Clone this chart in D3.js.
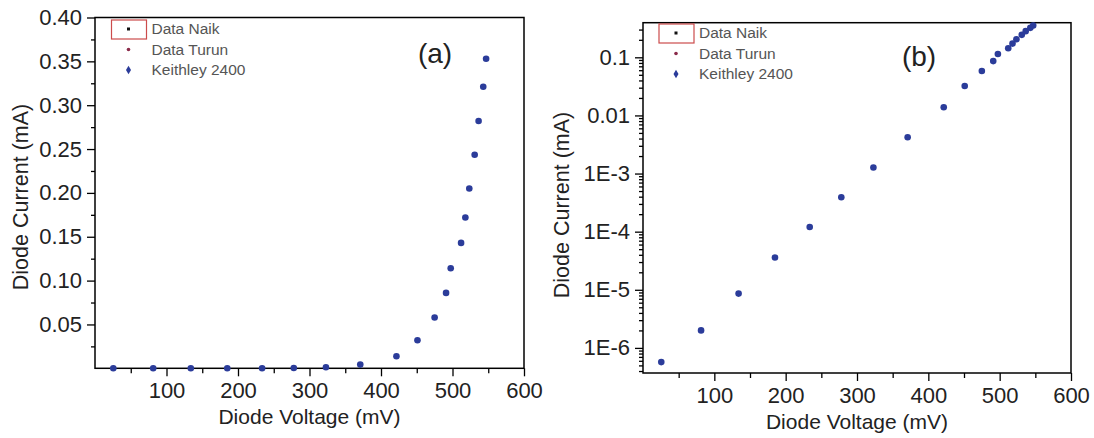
<!DOCTYPE html>
<html>
<head>
<meta charset="utf-8">
<script src="https://cdn.jsdelivr.net/npm/d3@7"></script>
<style>
    body { margin: 0; background: #fff; }
    svg text { font-family: "Liberation Sans", Arial, sans-serif; }
    .axis path { display: none; }
    .axis line { stroke: #000; stroke-width: 1.3; }
    .axis text { font-size: 22px; fill: #222; }
</style>
</head>
<body>
<div id="chart"></div>
<script>
// Keithley 2400 measurements: diode voltage (mV) and current (mA)
const voltage = [25.6, 81.4, 134, 185, 233.7, 278, 323, 371, 421.6, 451, 475, 491, 497.5, 512, 518, 523.5, 531, 536.5, 543, 547];
const current = [5.7e-7, 2.0e-6, 8.6e-6, 3.6e-5, 1.2e-4, 3.9e-4, 1.27e-3, 4.2e-3, 0.0138, 0.032, 0.058, 0.086, 0.114, 0.143, 0.172, 0.205, 0.2435, 0.282, 0.321, 0.353];

const legendNames = ["Data Naik", "Data Turun", "Keithley 2400"];
const legendColors = ["#111111", "#8a2a4a", "#2b3c9a"];

const xTicks = [100, 200, 300, 400, 500, 600];
const xMinor = [50, 150, 250, 350, 450, 550];
const linTicks = [0.05, 0.10, 0.15, 0.20, 0.25, 0.30, 0.35, 0.40];
const linLabels = ["0.05", "0.10", "0.15", "0.20", "0.25", "0.30", "0.35", "0.40"];
const linMinor = [0.025, 0.075, 0.125, 0.175, 0.225, 0.275, 0.325, 0.375];
const logTicks = [1e-6, 1e-5, 1e-4, 1e-3, 0.01, 0.1];
const logLabels = ["1E-6", "1E-5", "1E-4", "1E-3", "0.01", "0.1"];

const data = voltage.map((v, i) => ({ v: v, i: current[i] }));

const svg = d3.select("#chart").append("svg")
    .attr("width", 1094)
    .attr("height", 438);

function panel(opt) {
    const x = d3.scaleLinear().domain([0, 600]).range([opt.left, opt.right]);
    const y = opt.y;
    const g = svg.append("g");

    // minor ticks
    g.append("g").attr("class", "axis")
        .attr("transform", "translate(0," + opt.bottom + ")")
        .call(d3.axisBottom(x).tickValues(xMinor).tickSize(5).tickFormat(""));
    g.append("g").attr("class", "axis")
        .attr("transform", "translate(" + opt.left + ",0)")
        .call(d3.axisLeft(y).tickValues(opt.yMinor).tickSize(4).tickFormat(""));

    // major ticks
    g.append("g").attr("class", "axis")
        .attr("transform", "translate(0," + opt.bottom + ")")
        .call(d3.axisBottom(x).tickValues(xTicks).tickSize(8).tickPadding(6));
    g.append("g").attr("class", "axis")
        .attr("transform", "translate(" + opt.left + ",0)")
        .call(d3.axisLeft(y).tickValues(opt.yTicks).tickSize(8).tickPadding(5)
            .tickFormat((d, i) => opt.yLabels[i]));

    // frame
    g.append("rect")
        .attr("x", opt.left).attr("y", opt.top)
        .attr("width", opt.right - opt.left)
        .attr("height", opt.bottom - opt.top)
        .attr("fill", "none")
        .attr("stroke", "#000")
        .attr("stroke-width", 1.5);

    // points
    g.selectAll(".dot")
        .data(data.filter(d => y(d.i) <= opt.bottom + 1))
        .enter().append("circle")
        .attr("class", "dot")
        .attr("cx", d => x(d.v))
        .attr("cy", d => y(d.i))
        .attr("r", 3.3)
        .attr("fill", legendColors[2]);

    // axis titles
    g.append("text")
        .attr("x", (opt.left + opt.right) / 2)
        .attr("y", opt.xTitleY)
        .attr("text-anchor", "middle")
        .style("font-size", "21px")
        .attr("fill", "#222")
        .text("Diode Voltage (mV)");
    g.append("text")
        .attr("transform", "translate(" + opt.yTitleX + "," + opt.yTitleY + ") rotate(-90)")
        .attr("text-anchor", "middle")
        .attr("dy", "0.35em")
        .style("font-size", "21.5px")
        .attr("fill", "#222")
        .text("Diode Current (mA)");

    // panel tag
    g.append("text")
        .attr("x", opt.tagX).attr("y", opt.tagY)
        .attr("text-anchor", "middle")
        .style("font-size", "28px")
        .attr("fill", "#222")
        .text(opt.tag);

    // legend
    const lg = g.append("g").attr("transform", "translate(" + opt.legX + "," + opt.legY + ")");
    lg.append("rect")
        .attr("x", -17).attr("y", -9)
        .attr("width", 35).attr("height", 19)
        .attr("fill", "none")
        .attr("stroke", "#cc4b4b")
        .attr("stroke-width", 1.2);
    legendNames.forEach((name, i) => {
        const row = lg.append("g").attr("transform", "translate(0," + (i * 20.5) + ")");
        if (i === 0) {
            row.append("rect").attr("x", -1.5).attr("y", -1.5).attr("width", 3).attr("height", 3)
                .attr("fill", legendColors[i]);
        } else if (i === 1) {
            row.append("circle").attr("r", 1.8).attr("fill", legendColors[i]);
        } else {
            row.append("path").attr("d", d3.symbol(d3.symbolDiamond, 22)).attr("fill", legendColors[i]);
        }
        row.append("text")
            .attr("x", 23).attr("dy", "0.35em")
            .style("font-size", "15.5px")
            .attr("fill", "#555")
            .text(name);
    });
}

// (a) linear current axis
panel({
    left: 95, right: 524, top: 17.5, bottom: 368.3,
    y: d3.scaleLinear().domain([0, 0.40]).range([368.3, 17.5]),
    yTicks: linTicks, yLabels: linLabels, yMinor: linMinor,
    xTitleY: 424, yTitleX: 20, yTitleY: 197,
    tag: "(a)", tagX: 435, tagY: 63,
    legX: 128.5, legY: 29
});

// (b) logarithmic current axis
const yLog = d3.scaleLog().domain([3.7e-7, 0.394]).range([373, 22.7]);
panel({
    left: 643, right: 1071, top: 22.7, bottom: 373,
    y: yLog,
    yTicks: logTicks, yLabels: logLabels,
    yMinor: yLog.ticks().filter(t => logTicks.indexOf(t) < 0),
    xTitleY: 429, yTitleX: 561, yTitleY: 205,
    tag: "(b)", tagX: 919, tagY: 66,
    legX: 676, legY: 33
});
</script>
</body>
</html>
